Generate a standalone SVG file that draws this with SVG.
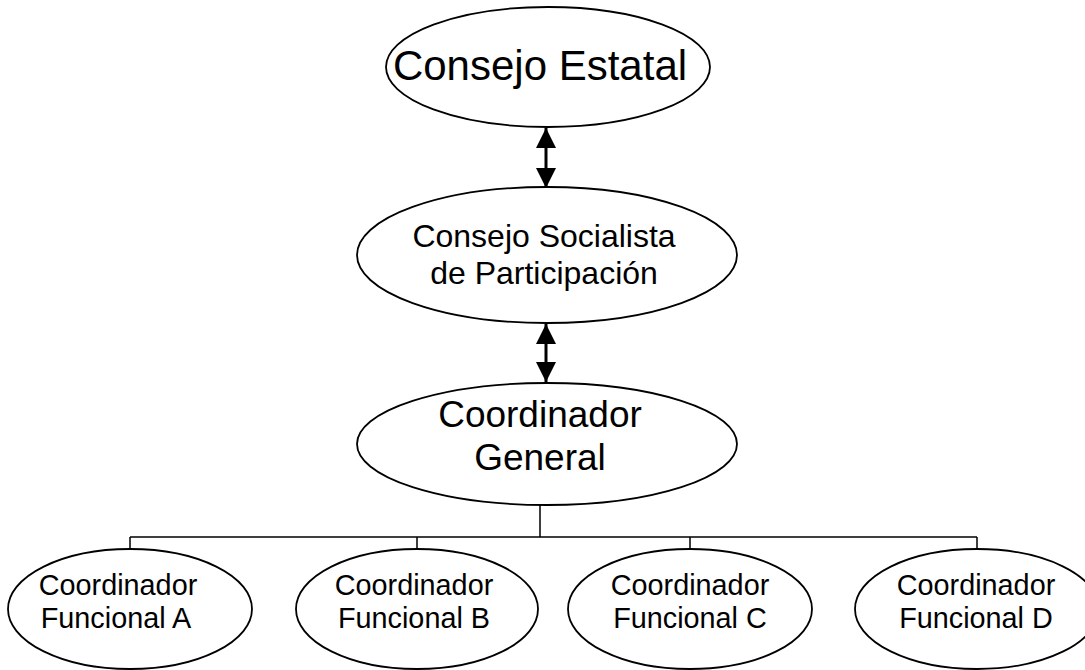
<svg xmlns="http://www.w3.org/2000/svg" width="1085" height="670" viewBox="0 0 1085 670">
<style>
.node ellipse { fill: #ffffff; stroke: #000000; stroke-width: 1.8; }
.node text { font-family: "Liberation Sans", Arial, sans-serif; fill: #000000; text-anchor: middle; }
.t42 { font-size: 42px; }
.t32 { font-size: 32px; }
.t36 { font-size: 37px; }
.t28 { font-size: 28.8px; }
.conn { stroke: #000000; fill: none; }
.arrow { stroke-width: 3; }
.tree { stroke-width: 1.5; }
</style>
<defs>
<marker id="ah" markerUnits="userSpaceOnUse" markerWidth="20" markerHeight="20" viewBox="0 0 18 18" refX="18" refY="9" orient="auto-start-reverse">
<path d="M0,0 L18,9 L0,18 Z" fill="#000000"/>
</marker>
</defs>
<rect width="1085" height="670" fill="#ffffff"/>
<g id="connectors">
<line class="conn arrow" x1="546" y1="128" x2="546" y2="188" marker-start="url(#ah)" marker-end="url(#ah)"/>
<line class="conn arrow" x1="546" y1="324" x2="546" y2="382" marker-start="url(#ah)" marker-end="url(#ah)"/>
<path class="conn tree" d="M540,505 V537 M130,537 H977 M130,537 V549 M417,537 V549 M690,537 V549 M977,537 V549"/>
</g>
<g id="consejo-estatal" class="node">
<ellipse cx="548" cy="67" rx="162" ry="60"/>
<text class="t42" x="540" y="80">Consejo Estatal</text>
</g>
<g id="consejo-socialista" class="node">
<ellipse cx="547" cy="255" rx="190" ry="68"/>
<text class="t32" x="544" y="247">Consejo Socialista</text>
<text class="t32" x="544" y="284">de Participación</text>
</g>
<g id="coordinador-general" class="node">
<ellipse cx="547" cy="444" rx="190" ry="61"/>
<text class="t36" x="540" y="427">Coordinador</text>
<text class="t36" x="540" y="470">General</text>
</g>
<g id="funcional-a" class="node">
<ellipse cx="130" cy="609" rx="122" ry="60"/>
<text class="t28" x="118" y="595">Coordinador</text>
<text class="t28" x="116" y="628">Funcional A</text>
</g>
<g id="funcional-b" class="node">
<ellipse cx="417" cy="609" rx="121" ry="60"/>
<text class="t28" x="414" y="595">Coordinador</text>
<text class="t28" x="414" y="628">Funcional B</text>
</g>
<g id="funcional-c" class="node">
<ellipse cx="690" cy="609" rx="122" ry="60"/>
<text class="t28" x="690" y="595">Coordinador</text>
<text class="t28" x="690" y="628">Funcional C</text>
</g>
<g id="funcional-d" class="node">
<ellipse cx="977" cy="609" rx="122" ry="60"/>
<text class="t28" x="976" y="595">Coordinador</text>
<text class="t28" x="976" y="628">Funcional D</text>
</g>
</svg>
